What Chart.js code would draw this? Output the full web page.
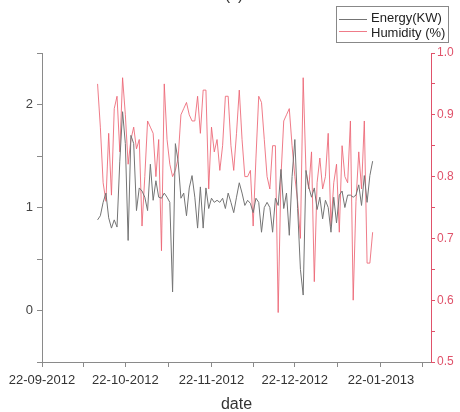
<!DOCTYPE html>
<html lang="en">
<head>
    <meta charset="UTF-8">
    <title>Energy and Humidity</title>
    <style>
        body { margin: 0; background: #fff; }
        #wrap { width: 460px; height: 412px; }
    </style>
</head>
<body>
    <div id="wrap">
        <canvas id="chart" width="460" height="412"></canvas>
    </div>

    <script src="https://cdn.jsdelivr.net/npm/chart.js"></script>
    <script>
        // day 0 = 22-09-2012, one value per day starting at startDay
        const startDay = 20;
        const energy = [
            0.88, 0.92, 1.05, 1.14, 0.90, 0.80, 0.88, 0.81, 1.45, 1.93,
            1.62, 0.68, 1.70, 1.62, 0.97, 1.19, 1.16, 1.10, 0.97, 1.42,
            1.07, 1.26, 1.10, 1.09, 1.14, 1.10, 1.05, 0.18, 1.62, 1.45,
            1.09, 1.14, 0.92, 1.19, 1.31, 1.10, 0.80, 1.20, 0.80, 1.19,
            0.99, 1.09, 1.05, 1.07, 1.05, 1.09, 0.99, 1.14, 1.05, 0.95,
            1.10, 1.24, 1.14, 1.02, 1.07, 1.04, 0.95, 1.09, 1.05, 0.76,
            1.00, 1.05, 1.00, 0.76, 1.09, 1.02, 1.37, 0.99, 1.14, 0.73,
            1.30, 1.66, 0.99, 0.40, 0.15, 1.36, 1.20, 1.10, 1.19, 0.98,
            1.10, 0.89, 1.07, 1.00, 0.76, 1.10, 0.85, 1.12, 1.16, 1.00,
            1.12, 1.12, 1.10, 1.12, 1.22, 1.02, 1.31, 1.05, 1.31, 1.45
        ];
        const humidity = [
            0.95, 0.88, 0.79, 0.76, 0.87, 0.77, 0.91, 0.93, 0.84, 0.96,
            0.90, 0.82, 0.86, 0.88, 0.845, 0.86, 0.72, 0.80, 0.89, 0.88,
            0.87, 0.80, 0.86, 0.68, 0.95, 0.86, 0.82, 0.80, 0.81, 0.83,
            0.90, 0.91, 0.92, 0.90, 0.89, 0.89, 0.93, 0.87, 0.94, 0.94,
            0.78, 0.88, 0.84, 0.86, 0.81, 0.85, 0.93, 0.93, 0.85, 0.81,
            0.87, 0.94, 0.86, 0.80, 0.80, 0.81, 0.72, 0.83, 0.93, 0.92,
            0.86, 0.80, 0.78, 0.85, 0.85, 0.58, 0.80, 0.89, 0.90, 0.91,
            0.85, 0.80, 0.76, 0.70, 0.96, 0.81, 0.78, 0.84, 0.63, 0.79,
            0.83, 0.78, 0.80, 0.87, 0.72, 0.79, 0.82, 0.71, 0.85, 0.80,
            0.79, 0.89, 0.60, 0.76, 0.84, 0.78, 0.89, 0.66, 0.66, 0.71
        ];
        const xTickDays = [0, 30, 61, 91, 122];
        const xTickLabels = ['22-09-2012', '22-10-2012', '22-11-2012', '22-12-2012', '22-01-2013'];
        const xMinorDays = [15, 45.5, 76, 106.5, 137];
        const seriesNames = ['Energy(KW)', 'Humidity (%)'];

        const grey = '#747474';
        const red = '#e0526a';
        const axisGrey = '#8a8a8a';
        const font = 'Liberation Sans, Arial, sans-serif';

        function toPoints(values) {
            return values.map((v, i) => ({ x: startDay + i, y: v }));
        }

        // boxed legend in the top right corner, plus the clipped panel label
        const boxLegend = {
            id: 'boxLegend',
            afterDraw(chart) {
                const ctx = chart.ctx;
                ctx.save();
                ctx.fillStyle = '#333';
                ctx.font = '16px ' + font;
                ctx.textAlign = 'center';
                ctx.textBaseline = 'alphabetic';
                ctx.fillText('(c)', 234, 0);

                ctx.strokeStyle = '#888';
                ctx.lineWidth = 1;
                ctx.strokeRect(336.5, 6.5, 112, 36);
                ctx.font = '13px ' + font;
                ctx.textAlign = 'left';
                ctx.textBaseline = 'middle';
                chart.data.datasets.forEach((ds, i) => {
                    ctx.strokeStyle = ds.borderColor;
                    ctx.beginPath();
                    ctx.moveTo(339, 19.5 + i * 12);
                    ctx.lineTo(367, 19.5 + i * 12);
                    ctx.stroke();
                    ctx.fillStyle = '#222';
                    ctx.fillText(ds.label, 371, 18 + i * 15);
                });
                ctx.restore();
            }
        };

        new Chart(document.getElementById('chart'), {
            type: 'line',
            data: {
                datasets: [{
                    label: seriesNames[0],
                    data: toPoints(energy),
                    yAxisID: 'y',
                    borderColor: grey,
                    borderWidth: 1,
                    pointRadius: 0,
                    tension: 0
                }, {
                    label: seriesNames[1],
                    data: toPoints(humidity),
                    yAxisID: 'y1',
                    borderColor: 'rgba(236, 100, 115, 0.85)',
                    borderWidth: 1,
                    pointRadius: 0,
                    tension: 0
                }]
            },
            options: {
                responsive: false,
                animation: false,
                layout: { padding: { top: 53, left: 0, right: 0, bottom: 0 } },
                plugins: {
                    legend: { display: false },
                    tooltip: { enabled: false }
                },
                scales: {
                    x: {
                        type: 'linear',
                        min: 0,
                        max: 140,
                        afterBuildTicks(scale) {
                            scale.ticks = xTickDays.concat(xMinorDays)
                                .sort((a, b) => a - b)
                                .map(v => ({ value: v }));
                        },
                        afterFit(scale) { scale.height = 50; },
                        ticks: {
                            autoSkip: false,
                            maxRotation: 0,
                            padding: 6,
                            color: '#333',
                            font: { size: 13, family: font },
                            callback(v) {
                                const i = xTickDays.indexOf(v);
                                return i >= 0 ? xTickLabels[i] : '';
                            }
                        },
                        grid: { drawOnChartArea: false, tickLength: 5, color: axisGrey },
                        border: { display: true, color: axisGrey, width: 1 },
                        title: {
                            display: true,
                            text: 'date',
                            color: '#333',
                            font: { size: 16, family: font },
                            padding: { top: 0, bottom: -2 }
                        }
                    },
                    y: {
                        position: 'left',
                        min: -0.5,
                        max: 2.5,
                        afterFit(scale) { scale.width = 42; },
                        ticks: {
                            stepSize: 0.5,
                            padding: 4,
                            color: '#444',
                            font: { size: 13, family: font },
                            callback(v) {
                                return Number.isInteger(v) ? String(v) : '';
                            }
                        },
                        grid: { drawOnChartArea: false, tickLength: 5, color: axisGrey },
                        border: { display: true, color: axisGrey, width: 1 }
                    },
                    y1: {
                        position: 'right',
                        min: 0.5,
                        max: 1.0,
                        afterFit(scale) { scale.width = 29; },
                        ticks: {
                            stepSize: 0.05,
                            padding: 2,
                            color: red,
                            font: { size: 12, family: font },
                            callback(v) {
                                return Math.round(v * 100) % 10 === 0 ? v.toFixed(1) : '';
                            }
                        },
                        grid: { drawOnChartArea: false, tickLength: 4, color: red },
                        border: { display: true, color: red, width: 1 }
                    }
                }
            },
            plugins: [boxLegend]
        });
    </script>
</body>
</html>
